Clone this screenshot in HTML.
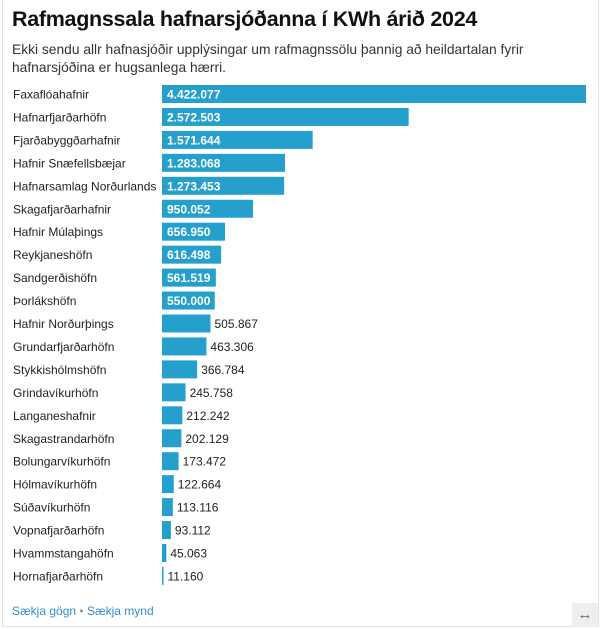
<!DOCTYPE html>
<html><head><meta charset="utf-8"><style>
html,body{margin:0;padding:0;background:#fff;}
body{width:601px;height:629px;position:relative;overflow:hidden;font-family:"Liberation Sans",Arial,sans-serif;}
#frame{position:absolute;left:2px;top:0;width:595px;height:626px;border:1px solid #e3e3e3;border-top:none;}
h1{position:absolute;left:12px;top:7px;margin:0;font-size:21.5px;font-weight:bold;color:#111;letter-spacing:-0.3px;}
#sub{position:absolute;left:12px;top:41px;width:560px;font-size:13.8px;line-height:18px;color:#333;}
#chart{position:absolute;left:0;top:0;}
#links{position:absolute;left:12px;top:604px;font-size:12px;color:#2f8fd0;}
#links span.dot{color:#999;}
#resize{position:absolute;left:572px;top:603px;width:26px;height:24px;background:#eeeeee;color:#666;font-size:15px;text-align:center;line-height:24px;}
</style></head><body>
<div id="frame"></div>
<h1>Rafmagnssala hafnarsjóðanna í KWh árið 2024</h1>
<div id="sub">Ekki sendu allr hafnasjóðir upplýsingar um rafmagnssölu þannig að heildartalan fyrir hafnarsjóðina er hugsanlega hærri.</div>
<svg id="chart" width="601" height="600"></svg>
<div id="links"><span>Sækja gögn</span> <span class="dot">•</span> <span>Sækja mynd</span></div>
<div id="resize">↔</div>
<script>
const categories=["Faxaflóahafnir","Hafnarfjarðarhöfn","Fjarðabyggðarhafnir","Hafnir Snæfellsbæjar","Hafnarsamlag Norðurlands","Skagafjarðarhafnir","Hafnir Múlaþings","Reykjaneshöfn","Sandgerðishöfn","Þorlákshöfn","Hafnir Norðurþings","Grundarfjarðarhöfn","Stykkishólmshöfn","Grindavíkurhöfn","Langaneshafnir","Skagastrandarhöfn","Bolungarvíkurhöfn","Hólmavíkurhöfn","Súðavíkurhöfn","Vopnafjarðarhöfn","Hvammstangahöfn","Hornafjarðarhöfn"];
const values=[4422077,2572503,1571644,1283068,1273453,950052,656950,616498,561519,550000,505867,463306,366784,245758,212242,202129,173472,122664,113116,93112,45063,11160];
const svg=document.getElementById('chart');
const NS='http://www.w3.org/2000/svg';
const x0=162,xw=424,y0=85,pitch=22.95,bh=18;
const maxV=Math.max(...values);
const xs=v=>v/maxV*xw;
const fmt=v=>String(v).replace(/\B(?=(\d{3})+(?!\d))/g,'.');
categories.forEach((c,i)=>{
  const y=y0+i*pitch;
  const t=document.createElementNS(NS,'text');
  t.setAttribute('x',13);t.setAttribute('y',y+bh/2+4.5);
  t.setAttribute('font-size','12');t.setAttribute('fill','#222');
  t.textContent=c;
  
  
  svg.appendChild(t);
  const w=Math.max(xs(values[i]),1.5);
  const r=document.createElementNS(NS,'rect');
  r.setAttribute('x',x0);r.setAttribute('y',y);r.setAttribute('width',w);r.setAttribute('height',bh);
  r.setAttribute('fill','#25a0cc');
  
  
  svg.appendChild(r);
  const inside=w>50;
  const v=document.createElementNS(NS,'text');
  v.setAttribute('x',inside?x0+5:x0+w+4);v.setAttribute('y',y+bh/2+4.5);
  v.setAttribute('font-size','12');v.setAttribute('fill',inside?'#fff':'#222');
  if(inside)v.setAttribute('font-weight','bold');
  v.textContent=fmt(values[i]);
  
  
  svg.appendChild(v);
});
</script>
</body></html>
